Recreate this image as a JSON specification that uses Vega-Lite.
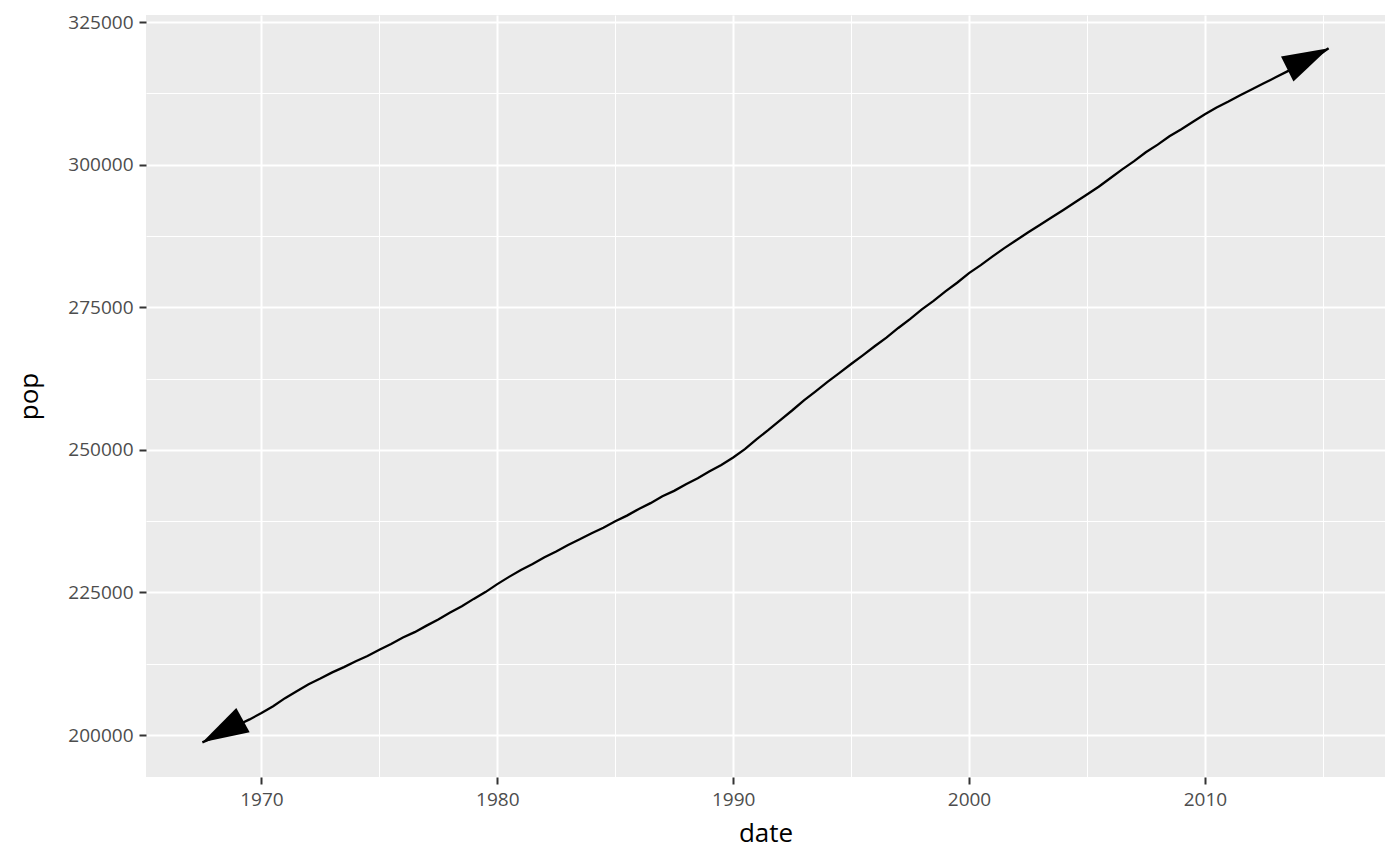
{
  "$schema": "https://vega.github.io/schema/vega-lite/v6.json",
  "width": 1239,
  "height": 762,
  "autosize": {"type": "none"},
  "padding": {"left": 146, "top": 15, "right": 15, "bottom": 89},
  "background": "white",
  "config": {
    "view": {"fill": "#EBEBEB", "stroke": null},
    "font": "Open Sans"
  },
  "data": {
    "values": [
      {"date": "1967-07-01", "pop": 198712},
      {"date": "1968-01-01", "pop": 199611},
      {"date": "1968-07-01", "pop": 200706},
      {"date": "1969-01-01", "pop": 201760},
      {"date": "1969-07-01", "pop": 202736},
      {"date": "1970-01-01", "pop": 203849},
      {"date": "1970-07-01", "pop": 205052},
      {"date": "1971-01-01", "pop": 206466},
      {"date": "1971-07-01", "pop": 207661},
      {"date": "1972-01-01", "pop": 208917},
      {"date": "1972-07-01", "pop": 209896},
      {"date": "1973-01-01", "pop": 210985},
      {"date": "1973-07-01", "pop": 211909},
      {"date": "1974-01-01", "pop": 212932},
      {"date": "1974-07-01", "pop": 213854},
      {"date": "1975-01-01", "pop": 214931},
      {"date": "1975-07-01", "pop": 215973},
      {"date": "1976-01-01", "pop": 217095},
      {"date": "1976-07-01", "pop": 218035},
      {"date": "1977-01-01", "pop": 219179},
      {"date": "1977-07-01", "pop": 220239},
      {"date": "1978-01-01", "pop": 221477},
      {"date": "1978-07-01", "pop": 222585},
      {"date": "1979-01-01", "pop": 223865},
      {"date": "1979-07-01", "pop": 225055},
      {"date": "1980-01-01", "pop": 226451},
      {"date": "1980-07-01", "pop": 227726},
      {"date": "1981-01-01", "pop": 228937},
      {"date": "1981-07-01", "pop": 229966},
      {"date": "1982-01-01", "pop": 231157},
      {"date": "1982-07-01", "pop": 232188},
      {"date": "1983-01-01", "pop": 233322},
      {"date": "1983-07-01", "pop": 234307},
      {"date": "1984-01-01", "pop": 235385},
      {"date": "1984-07-01", "pop": 236348},
      {"date": "1985-01-01", "pop": 237468},
      {"date": "1985-07-01", "pop": 238466},
      {"date": "1986-01-01", "pop": 239638},
      {"date": "1986-07-01", "pop": 240651},
      {"date": "1987-01-01", "pop": 241857},
      {"date": "1987-07-01", "pop": 242804},
      {"date": "1988-01-01", "pop": 243981},
      {"date": "1988-07-01", "pop": 245021},
      {"date": "1989-01-01", "pop": 246224},
      {"date": "1989-07-01", "pop": 247342},
      {"date": "1990-01-01", "pop": 248659},
      {"date": "1990-07-01", "pop": 250132},
      {"date": "1991-01-01", "pop": 251885},
      {"date": "1991-07-01", "pop": 253493},
      {"date": "1992-01-01", "pop": 255214},
      {"date": "1992-07-01", "pop": 256894},
      {"date": "1993-01-01", "pop": 258679},
      {"date": "1993-07-01", "pop": 260255},
      {"date": "1994-01-01", "pop": 261919},
      {"date": "1994-07-01", "pop": 263436},
      {"date": "1995-01-01", "pop": 265044},
      {"date": "1995-07-01", "pop": 266557},
      {"date": "1996-01-01", "pop": 268151},
      {"date": "1996-07-01", "pop": 269667},
      {"date": "1997-01-01", "pop": 271360},
      {"date": "1997-07-01", "pop": 272912},
      {"date": "1998-01-01", "pop": 274626},
      {"date": "1998-07-01", "pop": 276115},
      {"date": "1999-01-01", "pop": 277790},
      {"date": "1999-07-01", "pop": 279295},
      {"date": "2000-01-01", "pop": 280976},
      {"date": "2000-07-01", "pop": 282385},
      {"date": "2001-01-01", "pop": 283920},
      {"date": "2001-07-01", "pop": 285367},
      {"date": "2002-01-01", "pop": 286739},
      {"date": "2002-07-01", "pop": 288105},
      {"date": "2003-01-01", "pop": 289412},
      {"date": "2003-07-01", "pop": 290720},
      {"date": "2004-01-01", "pop": 292046},
      {"date": "2004-07-01", "pop": 293387},
      {"date": "2005-01-01", "pop": 294768},
      {"date": "2005-07-01", "pop": 296115},
      {"date": "2006-01-01", "pop": 297647},
      {"date": "2006-07-01", "pop": 299157},
      {"date": "2007-01-01", "pop": 300609},
      {"date": "2007-07-01", "pop": 302165},
      {"date": "2008-01-01", "pop": 303506},
      {"date": "2008-07-01", "pop": 304977},
      {"date": "2009-01-01", "pop": 306208},
      {"date": "2009-07-01", "pop": 307512},
      {"date": "2010-01-01", "pop": 308833},
      {"date": "2010-07-01", "pop": 310000},
      {"date": "2011-01-01", "pop": 311050},
      {"date": "2011-07-01", "pop": 312150},
      {"date": "2012-01-01", "pop": 313200},
      {"date": "2012-07-01", "pop": 314250},
      {"date": "2013-01-01", "pop": 315300},
      {"date": "2013-07-01", "pop": 316350},
      {"date": "2014-01-01", "pop": 317400},
      {"date": "2014-07-01", "pop": 318500},
      {"date": "2015-01-01", "pop": 319700},
      {"date": "2015-04-01", "pop": 320400}
    ]
  },
  "encoding": {
    "x": {
      "field": "date",
      "type": "temporal",
      "title": "date",
      "scale": {
        "type": "utc",
        "domain": [
          {"year": 1965, "month": 2, "date": 8, "utc": true},
          {"year": 2017, "month": 8, "date": 21, "utc": true}
        ],
        "nice": false
      },
      "axis": {
        "values": [
          {"year": 1970, "utc": true}, {"year": 1975, "utc": true},
          {"year": 1980, "utc": true}, {"year": 1985, "utc": true},
          {"year": 1990, "utc": true}, {"year": 1995, "utc": true},
          {"year": 2000, "utc": true}, {"year": 2005, "utc": true},
          {"year": 2010, "utc": true}, {"year": 2015, "utc": true}
        ],
        "labelExpr": "utcyear(datum.value) % 10 == 0 ? utcFormat(datum.value, '%Y') : ''",
        "domain": false,
        "grid": true,
        "gridColor": "white",
        "gridWidth": {"condition": {"test": "utcyear(datum.value) % 10 != 0", "value": 1}, "value": 2},
        "tickOpacity": {"condition": {"test": "utcyear(datum.value) % 10 != 0", "value": 0}, "value": 1},
        "tickColor": "#333333",
        "tickSize": 7,
        "tickWidth": 2,
        "labelPadding": 6,
        "labelFontSize": 19,
        "labelColor": "#4D4D4D",
        "labelFlush": false,
        "labelOverlap": false,
        "titleFontSize": 26,
        "titleFontWeight": "normal",
        "titleColor": "black",
        "titleX": 619.5,
        "titleY": 56,
        "titleBaseline": "middle",
        "titleAlign": "center"
      }
    },
    "y": {
      "field": "pop",
      "type": "quantitative",
      "title": "pop",
      "scale": {"domain": [192640, 326230], "nice": false, "zero": false},
      "axis": {
        "values": [200000, 212500, 225000, 237500, 250000, 262500, 275000, 287500, 300000, 312500, 325000],
        "format": "d",
        "labelExpr": "datum.value % 25000 == 0 ? datum.label : ''",
        "domain": false,
        "grid": true,
        "gridColor": "white",
        "gridWidth": {"condition": {"test": "datum.value % 25000 != 0", "value": 1}, "value": 2},
        "tickOpacity": {"condition": {"test": "datum.value % 25000 != 0", "value": 0}, "value": 1},
        "tickColor": "#333333",
        "tickSize": 7,
        "tickWidth": 2,
        "labelPadding": 6,
        "labelFontSize": 19,
        "labelColor": "#4D4D4D",
        "labelOverlap": false,
        "labelFlush": false,
        "titleFontSize": 26,
        "titleFontWeight": "normal",
        "titleColor": "black",
        "titleX": -117,
        "titleY": 381,
        "titleAngle": -90,
        "titleBaseline": "middle",
        "titleAlign": "center"
      }
    }
  },
  "layer": [
    {
      "mark": {"type": "line", "color": "black", "strokeWidth": 2.3}
    },
    {
      "transform": [{"filter": "utcyear(datum.date) == 2015 && utcmonth(datum.date) == 3"}],
      "mark": {
        "type": "point",
        "shape": "M0,0L-0.3,1L0.3,1Z",
        "size": 8575,
        "angle": 63.4,
        "filled": true,
        "color": "black",
        "strokeWidth": 0,
        "opacity": 1
      }
    },
    {
      "transform": [{"filter": "utcyear(datum.date) == 1967 && utcmonth(datum.date) == 6"}],
      "mark": {
        "type": "point",
        "shape": "M0,0L-0.3,1L0.3,1Z",
        "size": 8575,
        "angle": 241.3,
        "filled": true,
        "color": "black",
        "strokeWidth": 0,
        "opacity": 1
      }
    }
  ]
}
